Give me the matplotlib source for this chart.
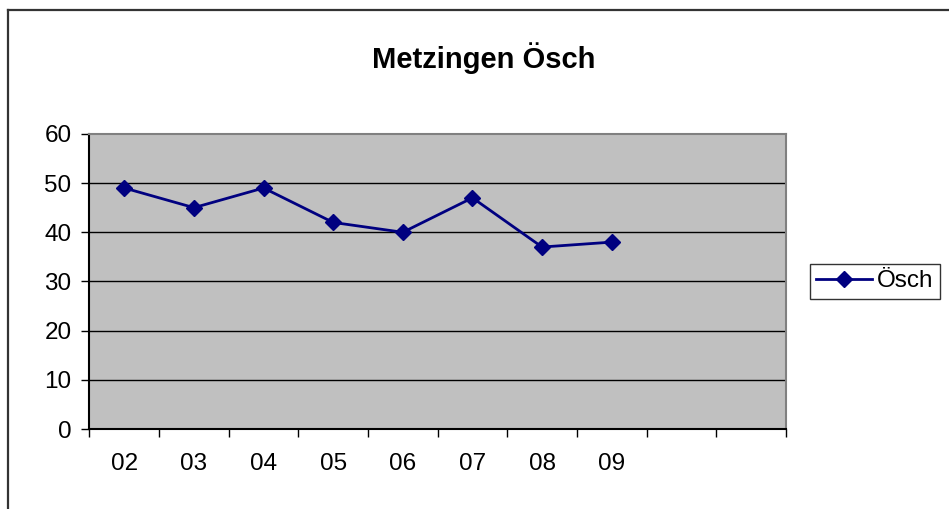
import numpy as np
import matplotlib.pyplot as plt
from matplotlib.lines import Line2D

plt.rcParams['font.family'] = ['Liberation Sans', 'DejaVu Sans']

# data
years = ['02', '03', '04', '05', '06', '07', '08', '09', '', '']
oesch = [49, 45, 49, 42, 40, 47, 37, 38]
yticks = [0, 10, 20, 30, 40, 50, 60]

fig = plt.figure(figsize=(9.49, 5.09), dpi=100)
ax = fig.add_axes([0.0943, 0.157, 0.7337, 0.580])
ax.set_facecolor('#C0C0C0')

x = np.arange(len(oesch))
ax.plot(x, oesch, '-D', color='#000080', lw=2, markersize=7.8, zorder=3, label='Ösch')

# horizontal grid lines
for v in yticks[1:-1]:
    ax.axhline(v, color='black', lw=1, zorder=1)

ax.set_xlim(-0.5, len(years) - 0.5)
ax.set_ylim(0, 60)
ax.set_yticks(yticks)
ax.tick_params(axis='y', direction='out', length=6, width=1, pad=7, labelsize=17.5)

# tick marks between categories, labels at the centres
ax.set_xticks(np.arange(len(years) + 1) - 0.5)
ax.set_xticklabels([])
ax.set_xticks(np.arange(len(years)), minor=True)
ax.set_xticklabels(years, minor=True)
ax.tick_params(axis='x', which='major', direction='out', length=6, width=1)
ax.tick_params(axis='x', which='minor', length=0, pad=17, labelsize=17.5)

ax.spines['left'].set_color('black')
ax.spines['bottom'].set_color('black')
ax.spines['top'].set_color('#808080')
ax.spines['right'].set_color('#808080')
for s in ax.spines.values():
    s.set_linewidth(1.5)

fig.text(0.51, 0.886, 'Metzingen Ösch', ha='center', va='center',
         fontsize=21, fontweight='bold')

leg = fig.legend(loc='center', bbox_to_anchor=(0.922, 0.447), fontsize=17.5,
                 frameon=True, fancybox=False, handlelength=2.3,
                 handletextpad=0.2, borderpad=0.25, borderaxespad=0)
leg.get_frame().set_edgecolor('black')
leg.get_frame().set_linewidth(1)

# chart area border (only top and left are visible)
fig.add_artist(Line2D([0.0084, 0.0084], [0, 1 - 10 / 509], color='#333333', lw=1.6))
fig.add_artist(Line2D([0.0084, 1], [1 - 10 / 509, 1 - 10 / 509], color='#333333', lw=1.6))

fig.savefig('out.png', dpi=100)
